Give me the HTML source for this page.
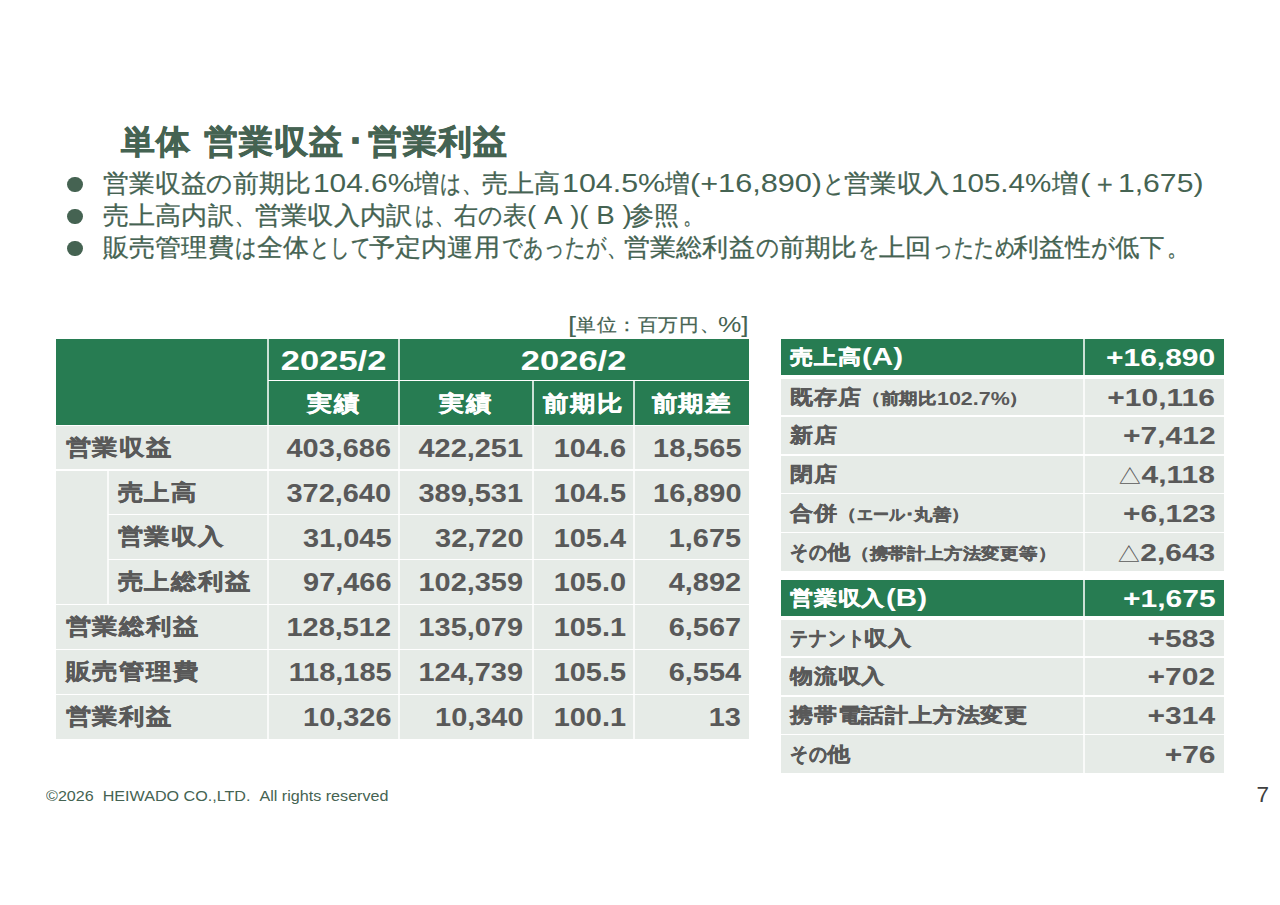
<!DOCTYPE html>
<html lang="ja">
<head>
<meta charset="utf-8">
<title>単体 営業収益･営業利益</title>
<style>
*{box-sizing:border-box;margin:0;padding:0}
html,body{width:1280px;height:905px;background:#fff;overflow:hidden}
body{position:relative;font-family:"Liberation Sans",sans-serif;color:#595959}
.blk{position:absolute}
.g{background:#277c52}
.y{background:#e6ebe7}
.ln{position:absolute;background:#fff}
.lv{position:absolute;background:rgba(255,255,255,.76)}
.t{position:absolute;white-space:nowrap;font-weight:bold;line-height:1;display:block}
.t span{display:inline-block;white-space:nowrap;transform-origin:left center;vertical-align:baseline}
.n{font-weight:normal}
.b span.j{-webkit-text-stroke:0.45px currentColor}
.ttl span.j{-webkit-text-stroke:0.7px currentColor}
.n span.j{-webkit-text-stroke:0.3px currentColor}
.r{text-align:right}
.r span{transform-origin:right center}
.c{text-align:center}
.w{color:#fff}
.tri{font-weight:normal;-webkit-text-stroke:0;font-size:.86em;margin-right:-1px}
</style>
</head>
<body>
<div class="t b ttl" style="left:120.5px;top:123px;font-size:35px;color:#456352"><span class="j" style="font-size:33.84px;letter-spacing:1.16px;transform:scale(1,0.975)">単体</span></div>
<div class="t b ttl" style="left:203.5px;top:123px;font-size:35px;color:#456352"><span class="j" style="font-size:33.84px;letter-spacing:1.16px;transform:scale(1,0.975)">営業収益</span></div>
<div class="t b ttl" style="left:347px;top:123px;font-size:35px;color:#456352"><span class="j" style="font-size:33.84px;letter-spacing:1.16px;transform:scale(1,0.975)">･</span></div>
<div class="t b ttl" style="left:367.5px;top:123px;font-size:35px;color:#456352"><span class="j" style="font-size:33.84px;letter-spacing:1.16px;transform:scale(1,0.975)">営業利益</span></div>
<div class="blk" style="left:67.25px;top:176.75px;width:15.5px;height:15.5px;border-radius:50%;background:#456352"></div>
<div class="t n" style="left:103px;top:169.66px;font-size:26.67px;color:#456352"><span class="j" style="font-size:26.27px;letter-spacing:0.4px;transform:scale(0.98,0.95)">営業収益の前期比</span></div>
<div class="t n" style="left:312.5px;top:169.66px;font-size:26.67px;color:#456352"><span class="a" style="transform:scale(1.12,1)">104.6%</span></div>
<div class="t n" style="left:414px;top:169.66px;font-size:26.67px;color:#456352"><span class="j" style="font-size:26.27px;letter-spacing:0.4px;transform:scale(0.96,0.95)">増</span></div>
<div class="t n" style="left:439.5px;top:169.66px;font-size:26.67px;color:#456352"><span class="j" style="font-size:26.27px;letter-spacing:0.4px;transform:scale(0.79,0.95)">は、</span></div>
<div class="t n" style="left:481.5px;top:169.66px;font-size:26.67px;color:#456352"><span class="j" style="font-size:26.27px;letter-spacing:0.4px;transform:scale(0.99,0.95)">売上高</span></div>
<div class="t n" style="left:561.5px;top:169.66px;font-size:26.67px;color:#456352"><span class="a" style="transform:scale(1.14,1)">104.5%</span></div>
<div class="t n" style="left:665px;top:169.66px;font-size:26.67px;color:#456352"><span class="j" style="font-size:26.27px;letter-spacing:0.4px;transform:scale(0.94,0.95)">増</span></div>
<div class="t n" style="left:690px;top:169.66px;font-size:26.67px;color:#456352"><span class="a" style="transform:scale(1.15,1)">(+16,890)</span></div>
<div class="t n" style="left:822.5px;top:169.66px;font-size:26.67px;color:#456352"><span class="j" style="font-size:26.27px;letter-spacing:0.4px;transform:scale(0.81,0.95)">と</span></div>
<div class="t n" style="left:844px;top:169.66px;font-size:26.67px;color:#456352"><span class="j" style="font-size:26.27px;letter-spacing:0.4px;transform:scale(1,0.95)">営業収入</span></div>
<div class="t n" style="left:951px;top:169.66px;font-size:26.67px;color:#456352"><span class="a" style="transform:scale(1.11,1)">105.4%</span></div>
<div class="t n" style="left:1051.5px;top:169.66px;font-size:26.67px;color:#456352"><span class="j" style="font-size:26.27px;letter-spacing:0.4px;transform:scale(1.01,0.95)">増</span></div>
<div class="t n" style="left:1079.5px;top:169.66px;font-size:26.67px;color:#456352"><span class="a" style="transform:scale(1.18,1)">(</span></div>
<div class="t n" style="left:1092px;top:169.66px;font-size:26.67px;color:#456352"><span class="j" style="font-size:26.27px;letter-spacing:0.4px;transform:scale(0.97,0.95)">＋</span></div>
<div class="t n" style="left:1118px;top:169.66px;font-size:26.67px;color:#456352"><span class="a" style="transform:scale(1.13,1)">1,675)</span></div>
<div class="blk" style="left:67.25px;top:208.75px;width:15.5px;height:15.5px;border-radius:50%;background:#456352"></div>
<div class="t n" style="left:103px;top:201.66px;font-size:26.67px;color:#456352"><span class="j" style="font-size:26.27px;letter-spacing:0.4px;transform:scale(0.99,0.95)">売上高内訳</span></div>
<div class="t n" style="left:234.5px;top:201.66px;font-size:26.67px;color:#456352"><span class="j" style="font-size:26.27px;letter-spacing:0.4px;transform:scale(0.75,0.95)">、</span></div>
<div class="t n" style="left:254.5px;top:201.66px;font-size:26.67px;color:#456352"><span class="j" style="font-size:26.27px;letter-spacing:0.4px;transform:scale(1,0.95)">営業収入内訳</span></div>
<div class="t n" style="left:415px;top:201.66px;font-size:26.67px;color:#456352"><span class="j" style="font-size:26.27px;letter-spacing:0.4px;transform:scale(0.73,0.95)">は、</span></div>
<div class="t n" style="left:454px;top:201.66px;font-size:26.67px;color:#456352"><span class="j" style="font-size:26.27px;letter-spacing:0.4px;transform:scale(0.91,0.95)">右の表</span></div>
<div class="t n" style="left:527px;top:201.66px;font-size:26.67px;color:#456352"><span class="a" style="transform:scale(1.04,1)">(&nbsp;A&nbsp;)(&nbsp;B&nbsp;)</span></div>
<div class="t n" style="left:629px;top:201.66px;font-size:26.67px;color:#456352"><span class="j" style="font-size:26.27px;letter-spacing:0.4px;transform:scale(0.95,0.95)">参照</span></div>
<div class="t n" style="left:683px;top:201.66px;font-size:26.67px;color:#456352"><span class="j" style="font-size:26.27px;letter-spacing:0.4px;transform:scale(0.75,0.95)">。</span></div>
<div class="blk" style="left:67.25px;top:240.75px;width:15.5px;height:15.5px;border-radius:50%;background:#456352"></div>
<div class="t n" style="left:103px;top:233.66px;font-size:26.67px;color:#456352"><span class="j" style="font-size:26.27px;letter-spacing:0.4px;transform:scale(0.99,0.95)">販売管理費</span></div>
<div class="t n" style="left:235px;top:233.66px;font-size:26.67px;color:#456352"><span class="j" style="font-size:26.27px;letter-spacing:0.4px;transform:scale(0.81,0.95)">は</span></div>
<div class="t n" style="left:256.5px;top:233.66px;font-size:26.67px;color:#456352"><span class="j" style="font-size:26.27px;letter-spacing:0.4px;transform:scale(0.99,0.95)">全体</span></div>
<div class="t n" style="left:309.5px;top:233.66px;font-size:26.67px;color:#456352"><span class="j" style="font-size:26.27px;letter-spacing:0.4px;transform:scale(0.74,0.95)">として</span></div>
<div class="t n" style="left:369px;top:233.66px;font-size:26.67px;color:#456352"><span class="j" style="font-size:26.27px;letter-spacing:0.4px;transform:scale(0.99,0.95)">予定内運用</span></div>
<div class="t n" style="left:501.5px;top:233.66px;font-size:26.67px;color:#456352"><span class="j" style="font-size:26.27px;letter-spacing:0.4px;transform:scale(0.77,0.95)">であったが、</span></div>
<div class="t n" style="left:624px;top:233.66px;font-size:26.67px;color:#456352"><span class="j" style="font-size:26.27px;letter-spacing:0.4px;transform:scale(0.99,0.95)">営業総利益</span></div>
<div class="t n" style="left:756px;top:233.66px;font-size:26.67px;color:#456352"><span class="j" style="font-size:26.27px;letter-spacing:0.4px;transform:scale(0.86,0.95)">の</span></div>
<div class="t n" style="left:779px;top:233.66px;font-size:26.67px;color:#456352"><span class="j" style="font-size:26.27px;letter-spacing:0.4px;transform:scale(0.98,0.95)">前期比</span></div>
<div class="t n" style="left:857.5px;top:233.66px;font-size:26.67px;color:#456352"><span class="j" style="font-size:26.27px;letter-spacing:0.4px;transform:scale(0.81,0.95)">を</span></div>
<div class="t n" style="left:879px;top:233.66px;font-size:26.67px;color:#456352"><span class="j" style="font-size:26.27px;letter-spacing:0.4px;transform:scale(1,0.95)">上回</span></div>
<div class="t n" style="left:932.5px;top:233.66px;font-size:26.67px;color:#456352"><span class="j" style="font-size:26.27px;letter-spacing:0.4px;transform:scale(0.75,0.95)">ったため</span></div>
<div class="t n" style="left:1012.5px;top:233.66px;font-size:26.67px;color:#456352"><span class="j" style="font-size:26.27px;letter-spacing:0.4px;transform:scale(0.98,0.95)">利益性</span></div>
<div class="t n" style="left:1091px;top:233.66px;font-size:26.67px;color:#456352"><span class="j" style="font-size:26.27px;letter-spacing:0.4px;transform:scale(0.9,0.95)">が</span></div>
<div class="t n" style="left:1115px;top:233.66px;font-size:26.67px;color:#456352"><span class="j" style="font-size:26.27px;letter-spacing:0.4px;transform:scale(0.93,0.95)">低下</span></div>
<div class="t n" style="left:1167px;top:233.66px;font-size:26.67px;color:#456352"><span class="j" style="font-size:26.27px;letter-spacing:0.4px;transform:scale(0.82,0.95)">。</span></div>
<div class="t n" style="left:568px;top:315.33px;font-size:21.33px;color:#456352"><span class="a" style="transform:scale(1.35,1)">[</span></div>
<div class="t n" style="left:576px;top:315.33px;font-size:21.33px;color:#456352"><span class="j" style="font-size:20.63px;letter-spacing:0.7px;transform:scale(0.95,0.869)">単位：百万円、</span></div>
<div class="t n" style="left:718px;top:315.33px;font-size:21.33px;color:#456352"><span class="a" style="transform:scale(1.23,1)">%]</span></div>
<div class="blk g" style="left:56px;top:339px;width:693px;height:86px"></div>
<div class="blk y" style="left:56px;top:425px;width:693px;height:313.5px"></div>
<div class="lv" style="left:267px;top:339px;width:2px;height:399.5px"></div>
<div class="lv" style="left:398px;top:339px;width:2px;height:399.5px"></div>
<div class="lv" style="left:531.5px;top:380px;width:2px;height:358.5px"></div>
<div class="lv" style="left:633px;top:380px;width:2px;height:358.5px"></div>
<div class="lv" style="left:107px;top:470px;width:2px;height:134px"></div>
<div class="ln" style="left:268px;top:379.5px;width:481px;height:1.5px"></div>
<div class="ln" style="left:56px;top:424.5px;width:693px;height:1.5px"></div>
<div class="ln" style="left:56px;top:469px;width:693px;height:1.5px"></div>
<div class="ln" style="left:108px;top:513.5px;width:641px;height:1.5px"></div>
<div class="ln" style="left:108px;top:558.5px;width:641px;height:1.5px"></div>
<div class="ln" style="left:56px;top:603.5px;width:693px;height:1.5px"></div>
<div class="ln" style="left:56px;top:648.5px;width:693px;height:1.5px"></div>
<div class="ln" style="left:56px;top:693.5px;width:693px;height:1.5px"></div>
<div id="h1" class="t b c w" style="left:268px;width:131px;top:345.75px;font-size:28.5px"><span class="a" style="transform-origin:center center;transform:scale(1.21,1)">2025/2</span></div>
<div id="h2" class="t b c w" style="left:399px;width:350px;top:345.75px;font-size:28.5px"><span class="a" style="transform-origin:center center;transform:scale(1.21,1)">2026/2</span></div>
<div id="h3" class="t b c w" style="left:268px;width:131px;top:389.67px;font-size:26.67px"><span class="j" style="transform-origin:center center;transform:scale(1,0.869)"><i style="font-style:normal;font-size:25.79px;letter-spacing:0.88px;margin-right:-0.88px">実績</i></span></div>
<div id="h4" class="t b c w" style="left:399px;width:133.5px;top:389.67px;font-size:26.67px"><span class="j" style="transform-origin:center center;transform:scale(1,0.869)"><i style="font-style:normal;font-size:25.79px;letter-spacing:0.88px;margin-right:-0.88px">実績</i></span></div>
<div id="h5" class="t b c w" style="left:532.5px;width:101.5px;top:389.67px;font-size:26.67px"><span class="j" style="transform-origin:center center;transform:scale(1,0.869)"><i style="font-style:normal;font-size:25.79px;letter-spacing:0.88px;margin-right:-0.88px">前期比</i></span></div>
<div id="h6" class="t b c w" style="left:634px;width:115px;top:389.67px;font-size:26.67px"><span class="j" style="transform-origin:center center;transform:scale(1,0.869)"><i style="font-style:normal;font-size:25.79px;letter-spacing:0.88px;margin-right:-0.88px">前期差</i></span></div>
<div id="ll0" class="t b" style="left:65.5px;top:434.17px;font-size:26.67px"><span class="j" style="width:106.68px;font-size:25.79px;letter-spacing:0.88px;transform:scale(1,0.869)">営業収益</span></div>
<div id="n00" class="t r" style="left:131.1px;width:260px;top:435.2px;font-size:26px"><span style="transform:scaleX(1.112)">403,686</span></div>
<div id="n01" class="t r" style="left:263.1px;width:260px;top:435.2px;font-size:26px"><span style="transform:scaleX(1.112)">422,251</span></div>
<div id="n02" class="t r" style="left:365.8px;width:260px;top:435.2px;font-size:26px"><span style="transform:scaleX(1.112)">104.6</span></div>
<div id="n03" class="t r" style="left:481.3px;width:260px;top:435.2px;font-size:26px"><span style="transform:scaleX(1.112)">18,565</span></div>
<div id="ll1" class="t b" style="left:117.5px;top:478.71px;font-size:26.67px"><span class="j" style="width:80.01px;font-size:25.79px;letter-spacing:0.88px;transform:scale(1,0.869)">売上高</span></div>
<div id="n10" class="t r" style="left:131.1px;width:260px;top:479.75px;font-size:26px"><span style="transform:scaleX(1.112)">372,640</span></div>
<div id="n11" class="t r" style="left:263.1px;width:260px;top:479.75px;font-size:26px"><span style="transform:scaleX(1.112)">389,531</span></div>
<div id="n12" class="t r" style="left:365.8px;width:260px;top:479.75px;font-size:26px"><span style="transform:scaleX(1.112)">104.5</span></div>
<div id="n13" class="t r" style="left:481.3px;width:260px;top:479.75px;font-size:26px"><span style="transform:scaleX(1.112)">16,890</span></div>
<div id="ll2" class="t b" style="left:117.5px;top:523.46px;font-size:26.67px"><span class="j" style="width:106.68px;font-size:25.79px;letter-spacing:0.88px;transform:scale(1,0.869)">営業収入</span></div>
<div id="n20" class="t r" style="left:131.1px;width:260px;top:524.5px;font-size:26px"><span style="transform:scaleX(1.112)">31,045</span></div>
<div id="n21" class="t r" style="left:263.1px;width:260px;top:524.5px;font-size:26px"><span style="transform:scaleX(1.112)">32,720</span></div>
<div id="n22" class="t r" style="left:365.8px;width:260px;top:524.5px;font-size:26px"><span style="transform:scaleX(1.112)">105.4</span></div>
<div id="n23" class="t r" style="left:481.3px;width:260px;top:524.5px;font-size:26px"><span style="transform:scaleX(1.112)">1,675</span></div>
<div id="ll3" class="t b" style="left:117.5px;top:568.41px;font-size:26.67px"><span class="j" style="width:133.35px;font-size:25.79px;letter-spacing:0.88px;transform:scale(1,0.869)">売上総利益</span></div>
<div id="n30" class="t r" style="left:131.1px;width:260px;top:569.45px;font-size:26px"><span style="transform:scaleX(1.112)">97,466</span></div>
<div id="n31" class="t r" style="left:263.1px;width:260px;top:569.45px;font-size:26px"><span style="transform:scaleX(1.112)">102,359</span></div>
<div id="n32" class="t r" style="left:365.8px;width:260px;top:569.45px;font-size:26px"><span style="transform:scaleX(1.112)">105.0</span></div>
<div id="n33" class="t r" style="left:481.3px;width:260px;top:569.45px;font-size:26px"><span style="transform:scaleX(1.112)">4,892</span></div>
<div id="ll4" class="t b" style="left:65.5px;top:613.41px;font-size:26.67px"><span class="j" style="width:133.35px;font-size:25.79px;letter-spacing:0.88px;transform:scale(1,0.869)">営業総利益</span></div>
<div id="n40" class="t r" style="left:131.1px;width:260px;top:614.45px;font-size:26px"><span style="transform:scaleX(1.112)">128,512</span></div>
<div id="n41" class="t r" style="left:263.1px;width:260px;top:614.45px;font-size:26px"><span style="transform:scaleX(1.112)">135,079</span></div>
<div id="n42" class="t r" style="left:365.8px;width:260px;top:614.45px;font-size:26px"><span style="transform:scaleX(1.112)">105.1</span></div>
<div id="n43" class="t r" style="left:481.3px;width:260px;top:614.45px;font-size:26px"><span style="transform:scaleX(1.112)">6,567</span></div>
<div id="ll5" class="t b" style="left:65.5px;top:658.41px;font-size:26.67px"><span class="j" style="width:133.35px;font-size:25.79px;letter-spacing:0.88px;transform:scale(1,0.869)">販売管理費</span></div>
<div id="n50" class="t r" style="left:131.1px;width:260px;top:659.45px;font-size:26px"><span style="transform:scaleX(1.112)">118,185</span></div>
<div id="n51" class="t r" style="left:263.1px;width:260px;top:659.45px;font-size:26px"><span style="transform:scaleX(1.112)">124,739</span></div>
<div id="n52" class="t r" style="left:365.8px;width:260px;top:659.45px;font-size:26px"><span style="transform:scaleX(1.112)">105.5</span></div>
<div id="n53" class="t r" style="left:481.3px;width:260px;top:659.45px;font-size:26px"><span style="transform:scaleX(1.112)">6,554</span></div>
<div id="ll6" class="t b" style="left:65.5px;top:703.01px;font-size:26.67px"><span class="j" style="width:106.68px;font-size:25.79px;letter-spacing:0.88px;transform:scale(1,0.869)">営業利益</span></div>
<div id="n60" class="t r" style="left:131.1px;width:260px;top:704.05px;font-size:26px"><span style="transform:scaleX(1.112)">10,326</span></div>
<div id="n61" class="t r" style="left:263.1px;width:260px;top:704.05px;font-size:26px"><span style="transform:scaleX(1.112)">10,340</span></div>
<div id="n62" class="t r" style="left:365.8px;width:260px;top:704.05px;font-size:26px"><span style="transform:scaleX(1.112)">100.1</span></div>
<div id="n63" class="t r" style="left:481.3px;width:260px;top:704.05px;font-size:26px"><span style="transform:scaleX(1.112)">13</span></div>
<div class="blk g" style="left:781px;top:339px;width:443px;height:36px"></div>
<div class="blk y" style="left:781px;top:379px;width:443px;height:36px"></div>
<div class="blk y" style="left:781px;top:416.5px;width:443px;height:37.5px"></div>
<div class="blk y" style="left:781px;top:455.5px;width:443px;height:37.5px"></div>
<div class="blk y" style="left:781px;top:494px;width:443px;height:37.5px"></div>
<div class="blk y" style="left:781px;top:533px;width:443px;height:38px"></div>
<div class="blk g" style="left:781px;top:579.5px;width:443px;height:36.5px"></div>
<div class="blk y" style="left:781px;top:620px;width:443px;height:36px"></div>
<div class="blk y" style="left:781px;top:657.5px;width:443px;height:37.5px"></div>
<div class="blk y" style="left:781px;top:696.5px;width:443px;height:37.5px"></div>
<div class="blk y" style="left:781px;top:735px;width:443px;height:37.5px"></div>
<div class="lv" style="left:1083px;top:339px;width:2px;height:232px"></div>
<div class="lv" style="left:1083px;top:579.5px;width:2px;height:193px"></div>
<div id="rl0" class="t b w" style="left:790px;top:345px;font-size:24px"><span class="j" style="width:72px;font-size:23.21px;letter-spacing:0.79px;transform:scale(1,0.869)">売上高</span><span class="a" style="width:40.98px;transform:scale(1.23,1)">(A)</span></div>
<div id="rv0" class="t r w" style="left:955.2px;width:260px;top:345.95px;font-size:24.5px"><span style="transform:scaleX(1.225)">+16,890</span></div>
<div id="rl1" class="t b" style="left:790px;top:385px;font-size:24px"><span class="j" style="width:72px;font-size:23.21px;letter-spacing:0.79px;transform:scale(1,0.869)">既存店</span><span style="font-size:18.67px;width:auto"><span class="j" style="width:18.67px;font-size:18.05px;letter-spacing:0.62px;transform:scale(1,0.869)">（</span><span class="j" style="width:56.01px;font-size:18.05px;letter-spacing:0.62px;transform:scale(1,0.869)">前期比</span><span class="a" style="width:72.63px;transform:scale(1.15,1)">102.7%</span><span class="j" style="width:18.67px;font-size:18.05px;letter-spacing:0.62px;transform:scale(1,0.869)">）</span></span></div>
<div id="rv1" class="t r" style="left:955.2px;width:260px;top:385.95px;font-size:24.5px"><span style="transform:scaleX(1.225)">+10,116</span></div>
<div id="rl2" class="t b" style="left:790px;top:423.25px;font-size:24px"><span class="j" style="width:48px;font-size:23.21px;letter-spacing:0.79px;transform:scale(1,0.869)">新店</span></div>
<div id="rv2" class="t r" style="left:955.2px;width:260px;top:424.2px;font-size:24.5px"><span style="transform:scaleX(1.225)">+7,412</span></div>
<div id="rl3" class="t b" style="left:790px;top:462.25px;font-size:24px"><span class="j" style="width:48px;font-size:23.21px;letter-spacing:0.79px;transform:scale(1,0.869)">閉店</span></div>
<div id="rv3" class="t r" style="left:955.2px;width:260px;top:463.2px;font-size:24.5px"><span style="transform:scaleX(1.225)"><b class="tri">△</b>4,118</span></div>
<div id="rl4" class="t b" style="left:790px;top:500.75px;font-size:24px"><span class="j" style="width:48px;font-size:23.21px;letter-spacing:0.79px;transform:scale(1,0.869)">合併</span><span style="font-size:18.67px;width:auto"><span class="j" style="width:18.67px;font-size:18.05px;letter-spacing:0.62px;transform:scale(1,0.869)">（</span><span class="j" style="width:48.17px;font-size:18.05px;letter-spacing:0.62px;transform:scale(0.86,0.869)">エール</span><span class="j" style="width:9.34px;font-size:18.05px;letter-spacing:0.62px;transform:scale(1,0.869)">･</span><span class="j" style="width:37.34px;font-size:18.05px;letter-spacing:0.62px;transform:scale(1,0.869)">丸善</span><span class="j" style="width:18.67px;font-size:18.05px;letter-spacing:0.62px;transform:scale(1,0.869)">）</span></span></div>
<div id="rv4" class="t r" style="left:955.2px;width:260px;top:501.7px;font-size:24.5px"><span style="transform:scaleX(1.225)">+6,123</span></div>
<div id="rl5" class="t b" style="left:790px;top:540px;font-size:24px"><span class="j" style="width:36.96px;font-size:23.21px;letter-spacing:0.79px;transform:scale(0.77,0.869)">その</span><span class="j" style="width:24px;font-size:23.21px;letter-spacing:0.79px;transform:scale(1,0.869)">他</span><span style="font-size:18.67px;width:auto"><span class="j" style="width:18.67px;font-size:18.05px;letter-spacing:0.62px;transform:scale(1,0.869)">（</span><span class="j" style="width:168.03px;font-size:18.05px;letter-spacing:0.62px;transform:scale(1,0.869)">携帯計上方法変更等</span><span class="j" style="width:18.67px;font-size:18.05px;letter-spacing:0.62px;transform:scale(1,0.869)">）</span></span></div>
<div id="rv5" class="t r" style="left:955.2px;width:260px;top:540.95px;font-size:24.5px"><span style="transform:scaleX(1.225)"><b class="tri">△</b>2,643</span></div>
<div id="rl6" class="t b w" style="left:790px;top:585.75px;font-size:24px"><span class="j" style="width:96px;font-size:23.21px;letter-spacing:0.79px;transform:scale(1,0.869)">営業収入</span><span class="a" style="width:40.98px;transform:scale(1.23,1)">(B)</span></div>
<div id="rv6" class="t r w" style="left:955.2px;width:260px;top:586.7px;font-size:24.5px"><span style="transform:scaleX(1.225)">+1,675</span></div>
<div id="rl7" class="t b" style="left:790px;top:626px;font-size:24px"><span class="j" style="width:73.92px;font-size:23.21px;letter-spacing:0.79px;transform:scale(0.77,0.869)">テナント</span><span class="j" style="width:48px;font-size:23.21px;letter-spacing:0.79px;transform:scale(1,0.869)">収入</span></div>
<div id="rv7" class="t r" style="left:955.2px;width:260px;top:626.95px;font-size:24.5px"><span style="transform:scaleX(1.225)">+583</span></div>
<div id="rl8" class="t b" style="left:790px;top:664.25px;font-size:24px"><span class="j" style="width:96px;font-size:23.21px;letter-spacing:0.79px;transform:scale(1,0.869)">物流収入</span></div>
<div id="rv8" class="t r" style="left:955.2px;width:260px;top:665.2px;font-size:24.5px"><span style="transform:scaleX(1.225)">+702</span></div>
<div id="rl9" class="t b" style="left:790px;top:703.25px;font-size:24px"><span class="j" style="width:240px;font-size:23.21px;letter-spacing:0.79px;transform:scale(1,0.869)">携帯電話計上方法変更</span></div>
<div id="rv9" class="t r" style="left:955.2px;width:260px;top:704.2px;font-size:24.5px"><span style="transform:scaleX(1.225)">+314</span></div>
<div id="rl10" class="t b" style="left:790px;top:741.75px;font-size:24px"><span class="j" style="width:36.96px;font-size:23.21px;letter-spacing:0.79px;transform:scale(0.77,0.869)">その</span><span class="j" style="width:24px;font-size:23.21px;letter-spacing:0.79px;transform:scale(1,0.869)">他</span></div>
<div id="rv10" class="t r" style="left:955.2px;width:260px;top:742.7px;font-size:24.5px"><span style="transform:scaleX(1.225)">+76</span></div>
<div class="t n" style="left:46px;top:789.16px;font-size:14.67px;color:#456352"><span class="a" style="transform:scale(1.1,1)">©2026&nbsp;&nbsp;HEIWADO&nbsp;CO.,LTD.&nbsp;&nbsp;All&nbsp;rights&nbsp;reserved</span></div>
<div class="t n r" style="left:1169px;width:100px;top:783.5px;font-size:22.5px;color:#404040"><span>7</span></div>
</body>
</html>
